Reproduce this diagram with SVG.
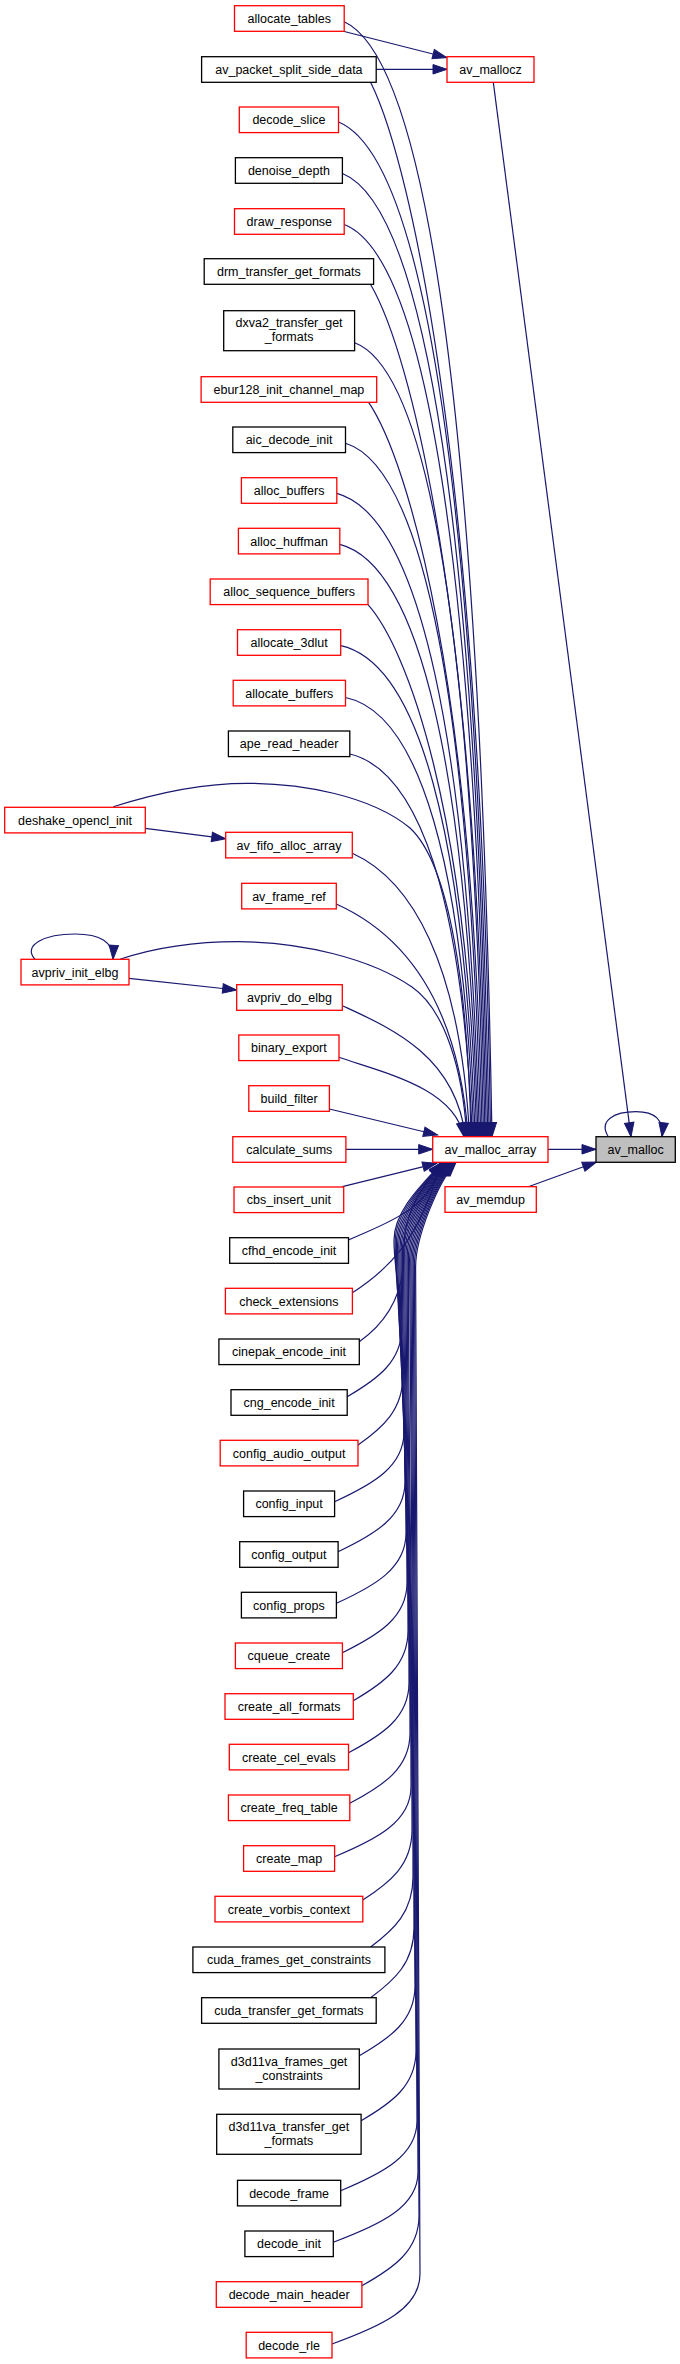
<svg xmlns="http://www.w3.org/2000/svg" width="680" height="2364" viewBox="0 0 680 2364">
<defs>
<style>
rect{fill:#fff;stroke-width:1.3}
.r{stroke:#ff0000}
.k{stroke:#000}
.g{fill:#bfbfbf;stroke:#000}
text{font-family:"Liberation Sans",Arial,sans-serif;font-size:12.5px;text-anchor:middle;fill:#000}
#edges path{fill:none;stroke:#191970;stroke-width:1.2;marker-end:url(#arr)}
</style>
<marker id="arr" markerWidth="15" markerHeight="11" refX="14" refY="4.75" orient="auto" markerUnits="userSpaceOnUse" overflow="visible"><path d="M0,0 L14,4.75 L0,9.5 z" fill="#191970" stroke="#191970" stroke-width="1"/></marker>
</defs>
<rect x="0" y="0" width="680" height="2364" style="fill:#fff;stroke:none"/>
<g id="edges">
<path d="M342.3,31 L446.7,57.5"/>
<path d="M376.2,69.3 L447,69.3"/>
<path d="M493.3,82.3 L631,1136.7"/>
<path d="M548,1149.3 L596,1149.3"/>
<path d="M528.3,1186.7 L596.5,1162"/>
<path d="M608.3,1136.7 C598,1120 615,1111.7 636,1111.7 C655,1111.7 664,1120 662,1136.7"/>
<path d="M145.3,828.3 L225.7,838.7"/>
<path d="M129,978.3 L236.7,990"/>
<path d="M35,959.3 C22,945 45,934 75,934 C100,934 114,942 113,959.3"/>
<path d="M344.2,21.7 C429.9,60.7 480.2,445.4 492,1136.7"/>
<path d="M370.6,82.3 C412.6,166.7 481,483 490.6,1136.7"/>
<path d="M338.5,122 C425.9,157.5 477.1,507.6 489.2,1136.7"/>
<path d="M342.4,173.5 C426.7,207.2 476.2,539.5 487.8,1136.7"/>
<path d="M344.2,224.5 C426.7,256.4 475,571.1 486.4,1136.7"/>
<path d="M370.6,284.5 C410.6,352.7 475.8,608.3 485,1136.7"/>
<path d="M354.6,342.7 C429.4,370.5 473.3,644.4 483.6,1136.7"/>
<path d="M368.5,402.2 C408.3,461 473.1,681.3 482.2,1136.7"/>
<path d="M345.5,443.3 C424,467.6 470,706.8 480.8,1136.7"/>
<path d="M336.8,493.3 C419.5,515.8 468,737.8 479.4,1136.7"/>
<path d="M339.8,544.3 C420,565 466.9,769.4 478,1136.7"/>
<path d="M368,604.7 C406,647.3 467.9,806.9 476.6,1136.7"/>
<path d="M340.7,645.7 C418.7,662.9 464.4,832.3 475.2,1136.7"/>
<path d="M345.5,697.5 C419.9,712.9 463.5,864.4 473.8,1136.7"/>
<path d="M349.8,754 C419.4,770.7 462.6,899.4 472.4,1136.7"/>
<path d="M113.3,806.7 C150,795 200,783.3 247,783.3 C300,783.3 370,795 410,828 C450,865 468,990 471,1136.7"/>
<path d="M352.3,853.3 C410.7,879.7 460.2,961 469.6,1136.7"/>
<path d="M336.3,904 C397.4,931.6 457.6,992.4 468.2,1136.7"/>
<path d="M120,959.3 C160,946 200,941.7 238,941.7 C300,941.7 370,958 412,987 C445,1010 463,1070 466.8,1136.7"/>
<path d="M342.3,1005.7 C390.5,1027.9 455.6,1055.5 465.4,1136.7"/>
<path d="M339,1057.3 C383.4,1072.8 454,1087.5 464,1136.7"/>
<path d="M329.4,1109 L437.5,1135"/>
<path d="M345.9,1149.3 L432.7,1149.3"/>
<path d="M342.4,1186.7 L436.7,1163.3"/>
<path d="M348.5,1240 C380.9,1224.8 432.7,1210.5 440,1162.3"/>
<path d="M352.4,1292.7 C387,1270.6 420,1240 440.8,1162.3"/>
<path d="M359.3,1341.7 C390,1320 405,1290 404,1250 C403,1210 425,1185 441.5,1162.3"/>
<path d="M347.2,1396.7 C377.3,1379.2 402,1361.7 402,1326.7 C402,1292 394,1274.7 394,1240 C394,1210 424.3,1182.3 442.3,1162.3"/>
<path d="M358,1445 C382.8,1427.5 403,1410 403,1375 C403,1321.6 395.2,1294.9 395.2,1241.5 C395.2,1211.5 425,1182.3 443,1162.3"/>
<path d="M334.6,1501.7 C372.8,1484.2 404,1466.7 404,1431.7 C404,1356.2 396.4,1318.5 396.4,1243 C396.4,1213 425.8,1182.3 443.8,1162.3"/>
<path d="M338.1,1551.7 C374.9,1534.2 405,1516.7 405,1481.7 C405,1386.8 397.6,1339.4 397.6,1244.5 C397.6,1214.5 426.6,1182.3 444.6,1162.3"/>
<path d="M336.4,1603.3 C374.7,1585.8 406,1568.3 406,1533.3 C406,1418.4 398.8,1360.9 398.8,1246 C398.8,1216 427.3,1182.3 445.3,1162.3"/>
<path d="M342.4,1652.7 C377.9,1635.2 407,1617.7 407,1582.7 C407,1448.6 400,1381.6 400,1247.5 C400,1217.5 428.1,1182.3 446.1,1162.3"/>
<path d="M353.3,1700.7 C383.4,1683.2 408,1665.7 408,1630.7 C408,1478 401.2,1401.7 401.2,1249 C401.2,1219 428.8,1182.3 446.8,1162.3"/>
<path d="M348.5,1752.7 C381.8,1735.2 409,1717.7 409,1682.7 C409,1509.8 402.4,1423.4 402.4,1250.5 C402.4,1220.5 429.6,1182.3 447.6,1162.3"/>
<path d="M349.8,1803.3 C382.9,1785.8 410,1768.3 410,1733.3 C410,1540.8 403.6,1444.5 403.6,1252 C403.6,1222 430.4,1182.3 448.4,1162.3"/>
<path d="M334.6,1856.7 C376.6,1839.2 411,1821.7 411,1786.7 C411,1573.4 404.8,1466.8 404.8,1253.5 C404.8,1223.5 431.1,1182.3 449.1,1162.3"/>
<path d="M362.8,1900 C389.9,1882.5 412,1865 412,1830 C412,1600 406,1485 406,1255 C406,1225 431.9,1182.3 449.9,1162.3"/>
<path d="M370.6,1947 C393.9,1929.5 413,1912 413,1877 C413,1628.8 407.2,1504.7 407.2,1256.5 C407.2,1226.5 432.6,1182.3 450.6,1162.3"/>
<path d="M370.6,1997.7 C394.5,1980.2 414,1962.7 414,1927.7 C414,1659.8 408.4,1525.9 408.4,1258 C408.4,1228 433.4,1182.3 451.4,1162.3"/>
<path d="M359.3,2055.7 C389.9,2038.2 415,2020.7 415,1985.7 C415,1695.2 409.6,1550 409.6,1259.5 C409.6,1229.5 434.2,1182.3 452.2,1162.3"/>
<path d="M361.1,2120.7 C391.3,2103.2 416,2085.7 416,2050.7 C416,1734.8 410.8,1576.9 410.8,1261 C410.8,1231 434.9,1182.3 452.9,1162.3"/>
<path d="M340.7,2190.7 C382.7,2173.2 417,2155.7 417,2120.7 C417,1777.4 412,1605.8 412,1262.5 C412,1232.5 435.7,1182.3 453.7,1162.3"/>
<path d="M333.3,2242.3 C379.9,2224.8 418,2207.3 418,2172.3 C418,1809 413.2,1627.3 413.2,1264 C413.2,1234 436.5,1182.3 454.5,1162.3"/>
<path d="M361.9,2285.7 C393.3,2268.2 419,2250.7 419,2215.7 C419,1835.6 414.4,1645.6 414.4,1265.5 C414.4,1235.5 437.2,1182.3 455.2,1162.3"/>
<path d="M332,2344 C380.4,2326.5 420,2309 420,2274 C420,1871.2 415.6,1669.8 415.6,1267 C415.6,1237 438,1182.3 456,1162.3"/>
</g>
<g id="av_malloc"><rect class="g" x="596" y="1136.7" width="79.3" height="25.6"/><text x="635.6" y="1153.9">av_malloc</text></g>
<g id="av_mallocz"><rect class="r" x="447" y="56.7" width="87" height="25.6"/><text x="490.5" y="73.9">av_mallocz</text></g>
<g id="av_malloc_array"><rect class="r" x="432.7" y="1136.7" width="115.3" height="25.6"/><text x="490.4" y="1153.9">av_malloc_array</text></g>
<g id="av_memdup"><rect class="r" x="445" y="1186.7" width="91.3" height="25.6"/><text x="490.6" y="1203.9">av_memdup</text></g>
<g id="allocate_tables"><rect class="r" x="234.5" y="5.7" width="109.7" height="25.6"/><text x="289.3" y="22.9">allocate_tables</text></g>
<g id="av_packet_split_side_data"><rect class="k" x="201.6" y="56.7" width="174.6" height="25.6"/><text x="288.9" y="73.9">av_packet_split_side_data</text></g>
<g id="decode_slice"><rect class="r" x="239.3" y="107" width="99.2" height="25.6"/><text x="288.9" y="124.2">decode_slice</text></g>
<g id="denoise_depth"><rect class="k" x="235.4" y="157.7" width="107" height="25.6"/><text x="288.9" y="174.9">denoise_depth</text></g>
<g id="draw_response"><rect class="r" x="234.5" y="208.7" width="109.7" height="25.6"/><text x="289.3" y="225.9">draw_response</text></g>
<g id="drm_transfer_get_formats"><rect class="k" x="204.2" y="258.7" width="169.4" height="25.6"/><text x="288.9" y="275.9">drm_transfer_get_formats</text></g>
<g id="dxva2_transfer_get_formats"><rect class="k" x="223.7" y="310.7" width="130.9" height="40"/><text x="289.1" y="327.2">dxva2_transfer_get</text><text x="289.1" y="341.2">_formats</text></g>
<g id="ebur128_init_channel_map"><rect class="r" x="201.1" y="376.7" width="175.6" height="25.6"/><text x="288.9" y="393.9">ebur128_init_channel_map</text></g>
<g id="aic_decode_init"><rect class="k" x="232.8" y="427" width="112.7" height="25.6"/><text x="289.1" y="444.2">aic_decode_init</text></g>
<g id="alloc_buffers"><rect class="r" x="241.4" y="477.7" width="95.4" height="25.6"/><text x="289.1" y="494.9">alloc_buffers</text></g>
<g id="alloc_huffman"><rect class="r" x="238.4" y="528.3" width="101.4" height="25.6"/><text x="289.1" y="545.5">alloc_huffman</text></g>
<g id="alloc_sequence_buffers"><rect class="r" x="210.2" y="579" width="157.8" height="25.6"/><text x="289.1" y="596.2">alloc_sequence_buffers</text></g>
<g id="allocate_3dlut"><rect class="r" x="237.5" y="629.7" width="103.2" height="25.6"/><text x="289.1" y="646.9">allocate_3dlut</text></g>
<g id="allocate_buffers"><rect class="r" x="233.2" y="680.3" width="112.3" height="25.6"/><text x="289.3" y="697.5">allocate_buffers</text></g>
<g id="ape_read_header"><rect class="k" x="228.4" y="731" width="121.4" height="25.6"/><text x="289.1" y="748.2">ape_read_header</text></g>
<g id="deshake_opencl_init"><rect class="r" x="4.7" y="807.3" width="140.6" height="25.6"/><text x="75" y="824.5">deshake_opencl_init</text></g>
<g id="av_fifo_alloc_array"><rect class="r" x="225.7" y="832.3" width="126.6" height="25.6"/><text x="289" y="849.5">av_fifo_alloc_array</text></g>
<g id="av_frame_ref"><rect class="r" x="241.7" y="883.3" width="94.6" height="25.6"/><text x="289" y="900.5">av_frame_ref</text></g>
<g id="avpriv_init_elbg"><rect class="r" x="21" y="959.3" width="108" height="25.6"/><text x="75" y="976.5">avpriv_init_elbg</text></g>
<g id="avpriv_do_elbg"><rect class="r" x="236.7" y="984.7" width="105.6" height="25.6"/><text x="289.5" y="1001.9">avpriv_do_elbg</text></g>
<g id="binary_export"><rect class="r" x="238.8" y="1035" width="100.2" height="25.6"/><text x="288.9" y="1052.2">binary_export</text></g>
<g id="build_filter"><rect class="r" x="248.8" y="1085.7" width="80.6" height="25.6"/><text x="289.1" y="1102.9">build_filter</text></g>
<g id="calculate_sums"><rect class="r" x="232.8" y="1136.7" width="113.1" height="25.6"/><text x="289.3" y="1153.9">calculate_sums</text></g>
<g id="cbs_insert_unit"><rect class="r" x="234" y="1187" width="109.7" height="25.6"/><text x="288.9" y="1204.2">cbs_insert_unit</text></g>
<g id="cfhd_encode_init"><rect class="k" x="229.7" y="1237.7" width="118.8" height="25.6"/><text x="289.1" y="1254.9">cfhd_encode_init</text></g>
<g id="check_extensions"><rect class="r" x="225.4" y="1288.3" width="127" height="25.6"/><text x="288.9" y="1305.5">check_extensions</text></g>
<g id="cinepak_encode_init"><rect class="k" x="218.9" y="1339" width="140.4" height="25.6"/><text x="289.1" y="1356.2">cinepak_encode_init</text></g>
<g id="cng_encode_init"><rect class="k" x="231" y="1389.7" width="116.2" height="25.6"/><text x="289.1" y="1406.9">cng_encode_init</text></g>
<g id="config_audio_output"><rect class="r" x="220.2" y="1440.3" width="137.8" height="25.6"/><text x="289.1" y="1457.5">config_audio_output</text></g>
<g id="config_input"><rect class="k" x="243.6" y="1491" width="91" height="25.6"/><text x="289.1" y="1508.2">config_input</text></g>
<g id="config_output"><rect class="k" x="239.7" y="1541.7" width="98.4" height="25.6"/><text x="288.9" y="1558.9">config_output</text></g>
<g id="config_props"><rect class="k" x="241.4" y="1592.3" width="95" height="25.6"/><text x="288.9" y="1609.5">config_props</text></g>
<g id="cqueue_create"><rect class="r" x="235.4" y="1643" width="107" height="25.6"/><text x="288.9" y="1660.2">cqueue_create</text></g>
<g id="create_all_formats"><rect class="r" x="225" y="1693.7" width="128.3" height="25.6"/><text x="289.1" y="1710.9">create_all_formats</text></g>
<g id="create_cel_evals"><rect class="r" x="229.3" y="1744.3" width="119.2" height="25.6"/><text x="288.9" y="1761.5">create_cel_evals</text></g>
<g id="create_freq_table"><rect class="r" x="228.4" y="1795" width="121.4" height="25.6"/><text x="289.1" y="1812.2">create_freq_table</text></g>
<g id="create_map"><rect class="r" x="243.6" y="1845.7" width="91" height="25.6"/><text x="289.1" y="1862.9">create_map</text></g>
<g id="create_vorbis_context"><rect class="r" x="215" y="1896.3" width="147.8" height="25.6"/><text x="288.9" y="1913.5">create_vorbis_context</text></g>
<g id="cuda_frames_get_constraints"><rect class="k" x="192.9" y="1947" width="192" height="25.6"/><text x="288.9" y="1964.2">cuda_frames_get_constraints</text></g>
<g id="cuda_transfer_get_formats"><rect class="k" x="201.6" y="1997.7" width="174.6" height="25.6"/><text x="288.9" y="2014.9">cuda_transfer_get_formats</text></g>
<g id="d3d11va_frames_get_constraints"><rect class="k" x="218.9" y="2049" width="140.4" height="40"/><text x="289.1" y="2065.5">d3d11va_frames_get</text><text x="289.1" y="2079.5">_constraints</text></g>
<g id="d3d11va_transfer_get_formats"><rect class="k" x="216.7" y="2114.3" width="144.4" height="40"/><text x="288.9" y="2130.8">d3d11va_transfer_get</text><text x="288.9" y="2144.8">_formats</text></g>
<g id="decode_frame"><rect class="k" x="237.5" y="2180.3" width="103.2" height="25.6"/><text x="289.1" y="2197.5">decode_frame</text></g>
<g id="decode_init"><rect class="k" x="244.9" y="2231" width="88.4" height="25.6"/><text x="289.1" y="2248.2">decode_init</text></g>
<g id="decode_main_header"><rect class="r" x="216.3" y="2281.7" width="145.6" height="25.6"/><text x="289.1" y="2298.9">decode_main_header</text></g>
<g id="decode_rle"><rect class="r" x="246.2" y="2332.3" width="85.8" height="25.6"/><text x="289.1" y="2349.5">decode_rle</text></g>
</svg>
